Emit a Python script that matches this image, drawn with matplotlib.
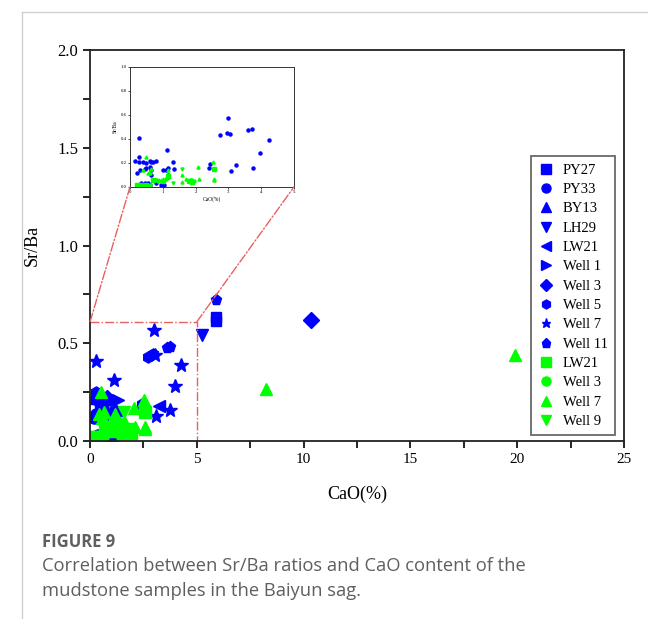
import matplotlib.pyplot as plt
from matplotlib.lines import Line2D
from matplotlib.patches import ConnectionPatch
from matplotlib.ticker import MultipleLocator

# Sr/Ba vs CaO(%) per well, blue and green groups
blue_names = ["PY27", "PY33", "BY13", "LH29", "LW21", "Well 1", "Well 3", "Well 5", "Well 7", "Well 11"]
blue_markers = ["s", "o", "^", "v", "<", ">", "D", "h", "*", "p"]
blue_x = [
    [5.9, 5.9, 0.55, 0.95],
    [0.2, 0.3, 0.45, 0.5, 0.6, 1.0, 0.35, 0.6, 1.05],
    [0.15, 0.45, 1.0, 0.8],
    [5.23, 0.4, 0.65],
    [3.23, 0.7, 1.15],
    [1.3, 0.5, 0.63],
    [10.35, 0.78],
    [2.73, 2.95, 0.28, 0.6, 1.1, 1.15, 1.35, 2.4, 2.45, 0.28],
    [0.27, 1.14, 3.0, 4.24, 3.98, 3.75, 3.09, 3.05, 1.15, 0.65],
    [5.9, 3.6, 3.72],
]
blue_y = [
    [0.635, 0.615, 0.03, 0.02],
    [0.12, 0.14, 0.15, 0.16, 0.17, 0.14, 0.03, 0.02, 0.02],
    [0.22, 0.03, 0.01, 0.03],
    [0.54, 0.21, 0.10],
    [0.18, 0.21, 0.08],
    [0.21, 0.20, 0.14],
    [0.62, 0.22],
    [0.43, 0.445, 0.25, 0.22, 0.14, 0.16, 0.15, 0.16, 0.19, 0.21],
    [0.41, 0.31, 0.57, 0.39, 0.28, 0.16, 0.13, 0.44, 0.10, 0.21],
    [0.72, 0.475, 0.48],
]

green_names = ["LW21", "Well 3", "Well 7", "Well 9"]
green_markers = ["s", "o", "^", "v"]
green_x = [
    [2.57, 0.2, 0.3, 0.5, 1.0, 1.8, 1.9, 0.7, 1.15],
    [0.25, 0.4, 0.6, 0.85, 1.1, 1.95],
    [8.24, 19.9, 2.54, 2.08, 2.57, 0.5, 0.4, 0.55, 0.65, 1.15, 1.6, 1.6, 1.7, 2.1, 0.9, 1.0, 2.55, 0.6],
    [1.3, 1.6, 1.85, 0.8],
]
green_y = [
    [0.15, 0.02, 0.02, 0.02, 0.05, 0.05, 0.04, 0.06, 0.09],
    [0.02, 0.02, 0.02, 0.05, 0.07, 0.05],
    [0.266, 0.44, 0.21, 0.17, 0.07, 0.25, 0.14, 0.12, 0.15, 0.14, 0.10, 0.04, 0.07, 0.07, 0.06, 0.07, 0.06, 0.12],
    [0.03, 0.15, 0.06, 0.06],
]

BLUE = "#0000ff"
GREEN = "#00ff00"
RED = "#e8605f"
serif = "Liberation Serif"

fig = plt.figure(figsize=(6.48, 6.19), dpi=100)
ax = fig.add_axes([0.139, 0.2876, 0.824, 0.6314])

handles = []
for name, m, xs, ys in zip(blue_names, blue_markers, blue_x, blue_y):
    ms = 10 if m == "*" else (7 if m == "s" else 8)
    ax.plot(xs, ys, ls="none", marker=m, ms=ms, color=BLUE, mec=BLUE)
    handles.append(Line2D([], [], ls="none", marker=m, ms=6.5, color=BLUE, label=name))
for name, m, xs, ys in zip(green_names, green_markers, green_x, green_y):
    ax.plot(xs, ys, ls="none", marker=m, ms=8, color=GREEN, mec=GREEN)
    handles.append(Line2D([], [], ls="none", marker=m, ms=6.5, color=GREEN, label=name))

ax.set_xlim(0, 25)
ax.set_ylim(0, 2.0)
ax.xaxis.set_major_locator(MultipleLocator(5))
ax.xaxis.set_minor_locator(MultipleLocator(2.5))
ax.yaxis.set_major_locator(MultipleLocator(0.5))
ax.yaxis.set_minor_locator(MultipleLocator(0.25))
ax.yaxis.set_major_formatter(lambda v, p: f"{v:.1f}")
ax.tick_params(which="both", direction="out", width=1.2, length=5)
for lab in ax.get_xticklabels():
    lab.set_fontfamily(serif)
    lab.set_fontsize(11)
for lab in ax.get_yticklabels():
    lab.set_fontfamily(serif)
    lab.set_fontsize(12)
for s in ax.spines.values():
    s.set_linewidth(1.3)
    s.set_color("#222222")
ax.set_xlabel("CaO(%)", fontfamily=serif, fontsize=13, labelpad=14)
ax.set_ylabel("Sr/Ba", fontfamily=serif, fontsize=13, labelpad=12)

# zoom rectangle
ax.plot([0, 5, 5], [0.61, 0.61, 0], color=RED, ls="-.", lw=1)

leg = ax.legend(handles=handles, loc="lower right", bbox_to_anchor=(0.997, -0.004),
                prop={"family": serif, "size": 10.5}, frameon=True, fancybox=False,
                handletextpad=0.6, labelspacing=0.42, borderpad=0.5, handlelength=1.1)
leg.get_frame().set_edgecolor("#444444")
leg.get_frame().set_linewidth(1.3)

# inset
axin = fig.add_axes([0.2006, 0.698, 0.253, 0.194])
for name, m, xs, ys in zip(blue_names, blue_markers, blue_x, blue_y):
    pts = [(a, b) for a, b in zip(xs, ys) if a <= 5]
    if pts:
        axin.plot([p[0] for p in pts], [p[1] for p in pts], ls="none", marker="o", ms=2.2, color=BLUE)
for name, m, xs, ys in zip(green_names, green_markers, green_x, green_y):
    pts = [(a, b) for a, b in zip(xs, ys) if a <= 5]
    if pts:
        axin.plot([p[0] for p in pts], [p[1] for p in pts], ls="none", marker=m, ms=2.2, color=GREEN)
axin.set_xlim(0, 5)
axin.set_ylim(0, 1.0)
axin.xaxis.set_major_locator(MultipleLocator(1))
axin.yaxis.set_major_locator(MultipleLocator(0.2))
axin.yaxis.set_major_formatter(lambda v, p: f"{v:.1f}")
axin.tick_params(labelsize=3.5, length=1.5, width=0.5, pad=1)
for lab in axin.get_xticklabels() + axin.get_yticklabels():
    lab.set_fontfamily(serif)
for s in axin.spines.values():
    s.set_linewidth(0.7)
    s.set_color("#333333")
axin.set_xlabel("CaO(%)", fontfamily=serif, fontsize=4, labelpad=1)
axin.set_ylabel("Sr/Ba", fontfamily=serif, fontsize=4, labelpad=2)

for xa, xb in [(0, 0), (5, 5)]:
    cp = ConnectionPatch(xyA=(xa, 0.61), coordsA=ax.transData,
                         xyB=(xb, 0), coordsB=axin.transData,
                         color=RED, ls="-.", lw=1)
    fig.add_artist(cp)

# card border and caption
fig.add_artist(Line2D([0.034, 0.034], [0, 0.981], transform=fig.transFigure, color="#d0d0d0", lw=1))
fig.add_artist(Line2D([0.034, 1], [0.981, 0.981], transform=fig.transFigure, color="#d0d0d0", lw=1))
fig.text(0.065, 0.116, "FIGURE 9", fontfamily="Open Sans", fontweight="bold", fontsize=12, color="#5f5f5f")
fig.text(0.065, 0.037, "Correlation between Sr/Ba ratios and CaO content of the\nmudstone samples in the Baiyun sag.",
         fontfamily="Open Sans", fontsize=13.2, color="#5f5f5f", linespacing=1.5)

fig.savefig("out.png", dpi=100)
